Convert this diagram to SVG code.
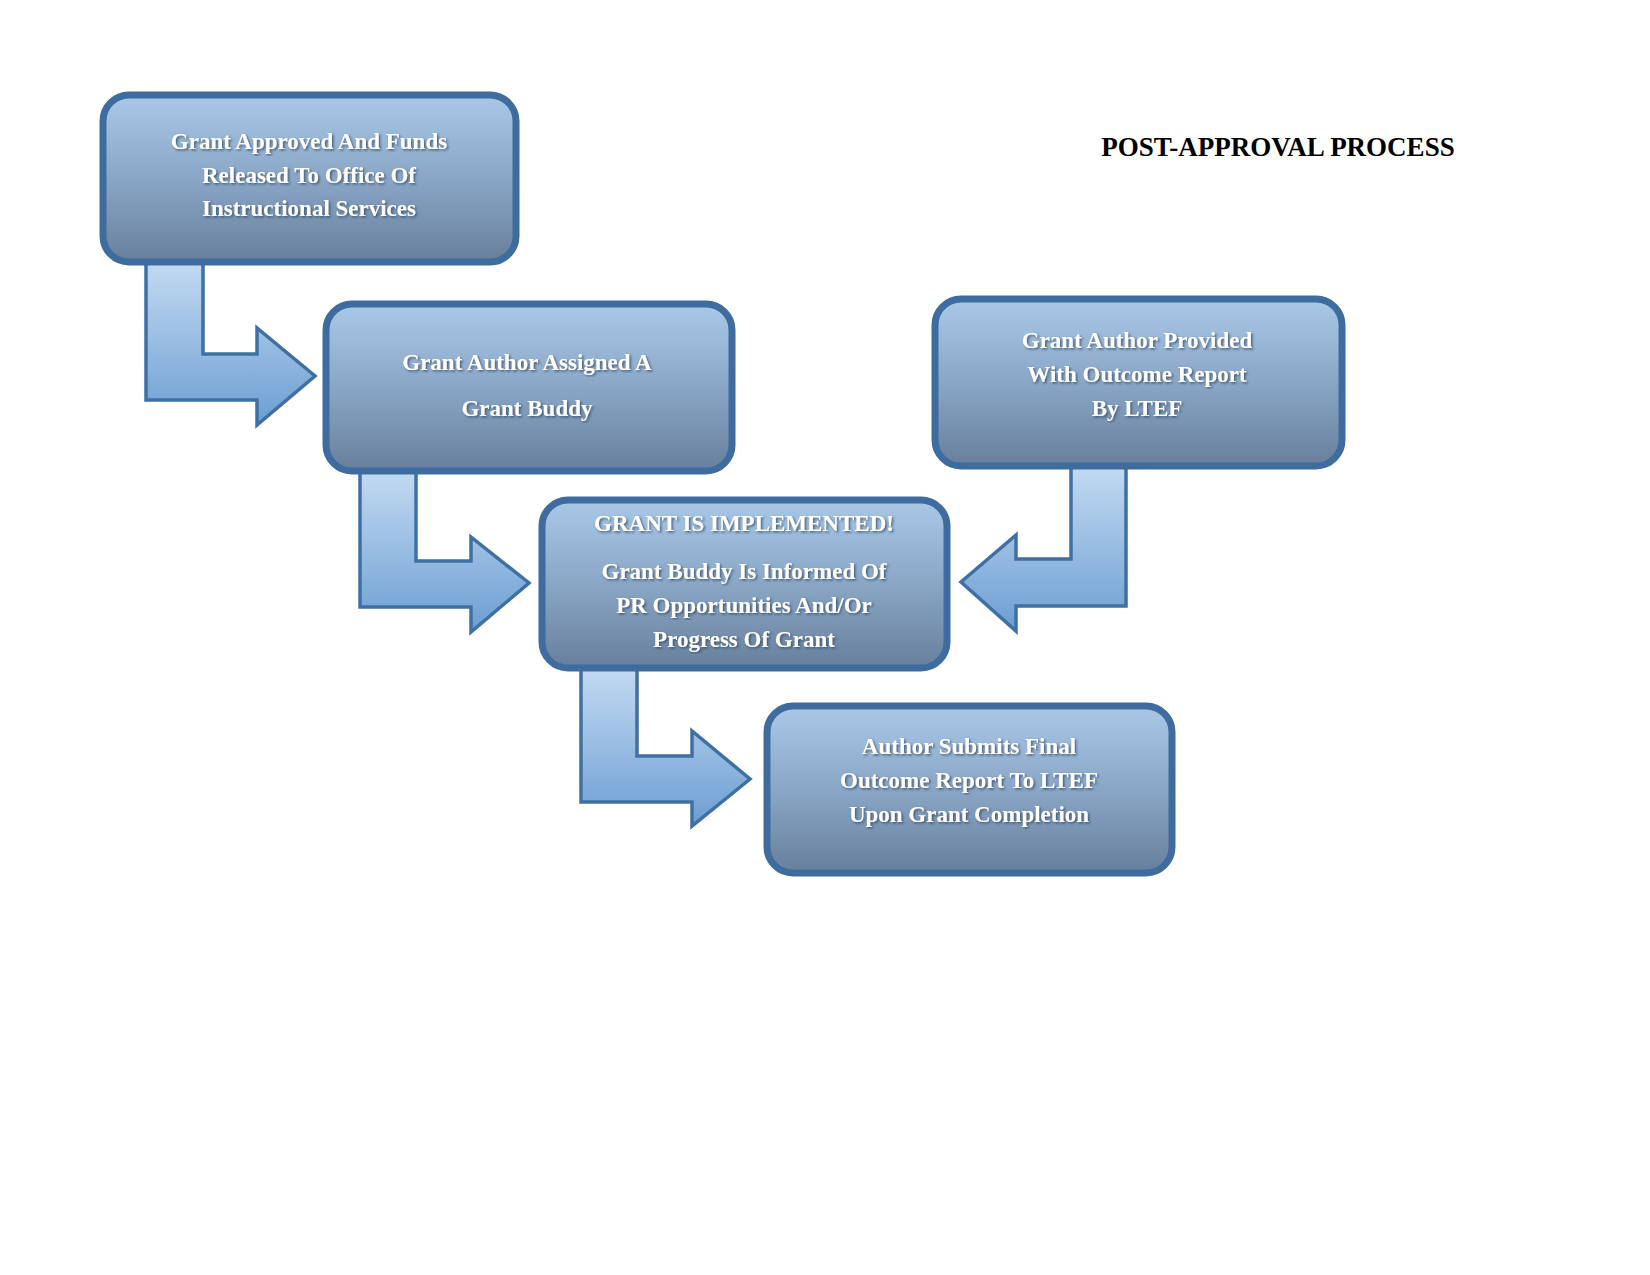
<svg xmlns="http://www.w3.org/2000/svg" width="1650" height="1275" viewBox="0 0 1650 1275">
<defs>
<linearGradient id="bg" x1="0" y1="0" x2="0" y2="1"><stop offset="0" stop-color="#a9c8e8"/><stop offset="0.5" stop-color="#8aa6c6"/><stop offset="1" stop-color="#677f9c"/></linearGradient>
<linearGradient id="ag" x1="0" y1="0" x2="0" y2="1"><stop offset="0" stop-color="#c3daf2"/><stop offset="1" stop-color="#6c9ed2"/></linearGradient>
<filter id="sh"><feDropShadow dx="1.5" dy="1.5" stdDeviation="1" flood-color="#30475f" flood-opacity="0.8"/></filter>
</defs>
<style>
.box{fill:url(#bg);stroke:#3e6c9f;stroke-width:7}
.arr{fill:url(#ag);stroke:#3f70a3;stroke-width:3.5;stroke-linejoin:miter}
.t{font-family:"Liberation Serif",serif;font-weight:bold;font-size:23px;fill:#fff;text-anchor:middle;dominant-baseline:central;filter:url(#sh)}
.title{font-family:"Liberation Serif",serif;font-weight:bold;font-size:27px;fill:#000;text-anchor:middle;dominant-baseline:central}
</style>
<rect width="1650" height="1275" fill="#fff"/>
<text class="title" x="1278" y="147">POST-APPROVAL PROCESS</text>
<g id="connectors">
<path class="arr" d="M146,262 H203 V354 H257 V328 L315,376 L257,425 V400 H146 Z"/>
<path class="arr" d="M360,471 H416 V561 H471 V537 L529,583 L471,632 V607 H360 Z"/>
<path class="arr" d="M581,668 H637 V756 H692 V731 L750,779 L692,826 V802 H581 Z"/>
<path class="arr" d="M1126,466 H1071 V559 H1016 V535 L961,582 L1016,631 V606 H1126 Z"/>
</g>
<g id="n1"><rect class="box" x="103" y="95" width="413" height="167" rx="26"/>
<text class="t" x="309" y="141">Grant Approved And Funds</text><text class="t" x="309" y="175">Released To Office Of</text><text class="t" x="309" y="208">Instructional Services</text></g>
<g id="n2"><rect class="box" x="326" y="304" width="406" height="167" rx="26"/>
<text class="t" x="527" y="362">Grant Author Assigned A</text><text class="t" x="527" y="408">Grant Buddy</text></g>
<g id="n3"><rect class="box" x="935" y="299" width="407" height="167" rx="26"/>
<text class="t" x="1137" y="340">Grant Author Provided</text><text class="t" x="1137" y="374">With Outcome Report</text><text class="t" x="1137" y="408">By LTEF</text></g>
<g id="n4"><rect class="box" x="542" y="500" width="405" height="168" rx="26"/>
<text class="t" x="744" y="523">GRANT IS IMPLEMENTED!</text><text class="t" x="744" y="571">Grant Buddy Is Informed Of</text><text class="t" x="744" y="605">PR Opportunities And/Or</text><text class="t" x="744" y="639">Progress Of Grant</text></g>
<g id="n5"><rect class="box" x="767" y="706" width="405" height="167" rx="26"/>
<text class="t" x="969" y="746">Author Submits Final</text><text class="t" x="969" y="780">Outcome Report To LTEF</text><text class="t" x="969" y="814">Upon Grant Completion</text></g>
</svg>
